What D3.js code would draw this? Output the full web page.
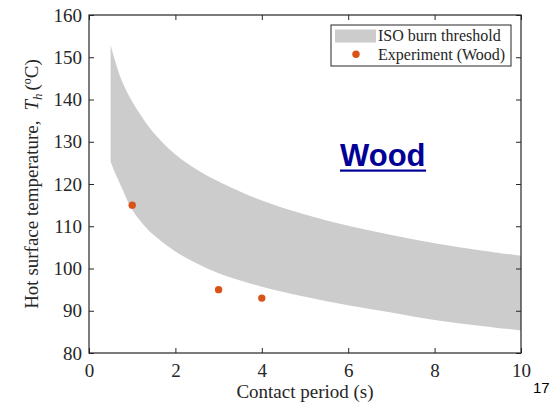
<!DOCTYPE html>
<html>
<head>
<meta charset="utf-8">
<script src="https://cdn.jsdelivr.net/npm/d3@7"></script>
<style>
  html, body { margin: 0; padding: 0; background: #fff; }
  svg { display: block; }
</style>
</head>
<body>
<svg id="chart" width="554" height="404"></svg>
<script>
// ---- data ----
const bandTime  = [0.5, 0.6, 0.75, 1, 1.25, 1.5, 2, 2.5, 3, 4, 5, 6, 7, 8, 9, 10];
const bandUpper = [152.9, 149.3, 144.7, 139.5, 135.5, 132.1, 127.0, 123.4, 120.6, 116.1, 112.8, 110.1, 107.9, 106.0, 104.4, 103.0];
const bandLower = [125.3, 122.7, 119.3, 113.9, 110.5, 107.9, 104.0, 101.2, 98.9, 95.7, 93.3, 91.3, 89.6, 87.8, 86.5, 85.3];
const expTime   = [1, 3, 4];
const expTemp   = [115, 95, 93];
const xTicks    = [0, 2, 4, 6, 8, 10];
const yTicks    = [80, 90, 100, 110, 120, 130, 140, 150, 160];
const legendLabels = ["ISO burn threshold", "Experiment (Wood)"];

const svg = d3.select("#chart");
const M = { left: 89, right: 521, top: 15, bottom: 353 };
const x = d3.scaleLinear().domain([0, 10]).range([M.left, M.right]);
const y = d3.scaleLinear().domain([80, 160]).range([M.bottom, M.top]);
const serif = "'Liberation Serif', 'Times New Roman', serif";
const ink = "#262626";

const band = bandTime.map((t, i) => ({ t, lo: bandLower[i], hi: bandUpper[i] }));
svg.append("path")
  .datum(band)
  .attr("fill", "#cccccc")
  .attr("d", d3.area().curve(d3.curveCatmullRom.alpha(0.5))
    .x(d => x(d.t)).y0(d => y(d.lo)).y1(d => y(d.hi)));

svg.selectAll("circle.exp")
  .data(expTime.map((t, i) => ({ t, v: expTemp[i] })))
  .join("circle")
  .attr("class", "exp")
  .attr("cx", d => x(d.t)).attr("cy", d => y(d.v))
  .attr("r", 3.7).attr("fill", "#D95319");

// axes (ticks inward on all four sides)
function styleAxis(g, labels) {
  g.select(".domain").remove();
  g.selectAll(".tick line").attr("stroke", ink).attr("stroke-width", 1);
  g.selectAll(".tick text").attr("fill", ink).attr("font-family", serif).attr("font-size", 19);
  if (!labels) g.selectAll(".tick text").remove();
}
svg.append("g").attr("transform", `translate(0,${M.bottom})`)
  .call(d3.axisBottom(x).tickValues(xTicks).tickSize(-5).tickPadding(11).tickFormat(d3.format("d")))
  .call(g => styleAxis(g, true));
svg.append("g").attr("transform", `translate(0,${M.top})`)
  .call(d3.axisTop(x).tickValues(xTicks).tickSize(-5))
  .call(g => styleAxis(g, false));
svg.append("g").attr("transform", `translate(${M.left},0)`)
  .call(d3.axisLeft(y).tickValues(yTicks).tickSize(-5).tickPadding(7).tickFormat(d3.format("d")))
  .call(g => styleAxis(g, true));
svg.append("g").attr("transform", `translate(${M.right},0)`)
  .call(d3.axisRight(y).tickValues(yTicks).tickSize(-5))
  .call(g => styleAxis(g, false));

svg.append("rect")
  .attr("x", M.left).attr("y", M.top)
  .attr("width", M.right - M.left).attr("height", M.bottom - M.top)
  .attr("fill", "none").attr("stroke", ink).attr("stroke-width", 1.2);

// axis titles
svg.append("text")
  .attr("x", (M.left + M.right) / 2).attr("y", 398)
  .attr("text-anchor", "middle").attr("font-family", serif).attr("font-size", 19).attr("fill", ink)
  .text("Contact period (s)");

const yt = svg.append("text")
  .attr("transform", `translate(38,${(M.top + M.bottom) / 2}) rotate(-90)`)
  .attr("text-anchor", "middle").attr("font-family", serif).attr("font-size", 19).attr("fill", ink);
yt.append("tspan").text("Hot surface temperature,");
yt.append("tspan").attr("dx", 10).attr("font-style", "italic").text("T");
yt.append("tspan").attr("font-style", "italic").attr("font-size", 13).attr("dy", 4).text("h");
yt.append("tspan").attr("dy", -4).attr("dx", 3).text("(");
yt.append("tspan").attr("font-size", 12).attr("dy", -7).text("o");
yt.append("tspan").attr("dy", 7).text("C)");

// legend
const lg = svg.append("g");
lg.append("rect").attr("x", 331).attr("y", 25).attr("width", 180).attr("height", 41)
  .attr("fill", "#fff").attr("stroke", ink).attr("stroke-width", 1);
lg.append("rect").attr("x", 335).attr("y", 29.5).attr("width", 41).attr("height", 13).attr("fill", "#cccccc");
lg.append("circle").attr("cx", 356).attr("cy", 54.3).attr("r", 3.7).attr("fill", "#D95319");
lg.selectAll("text.lg").data(legendLabels).join("text")
  .attr("class", "lg")
  .attr("x", 378).attr("y", (d, i) => 41 + i * 18.5)
  .attr("font-family", serif).attr("font-size", 16).attr("fill", ink)
  .text(d => d);

// annotation
svg.append("text")
  .attr("x", 340).attr("y", 166)
  .attr("font-family", "'Liberation Sans', Arial, sans-serif").attr("font-weight", "bold")
  .attr("font-size", 31).attr("fill", "#000096")
  .text("Wood");
svg.append("rect").attr("x", 340).attr("y", 169.5).attr("width", 86).attr("height", 2.2).attr("fill", "#000096");

svg.append("text")
  .attr("x", 533).attr("y", 393)
  .attr("font-family", "'Liberation Sans', Arial, sans-serif")
  .attr("font-size", 15).attr("fill", "#000")
  .text("17");
</script>
</body>
</html>
